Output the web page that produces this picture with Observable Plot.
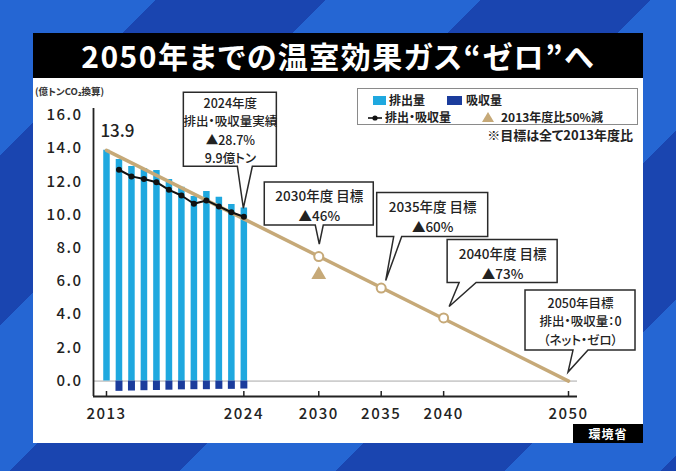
<!DOCTYPE html>
<html>
<head>
<meta charset="utf-8">
<script src="https://cdn.jsdelivr.net/npm/d3@7"></script>
<script src="https://cdn.jsdelivr.net/npm/@observablehq/plot@0.6"></script>
<style>
  html, body { margin: 0; padding: 0; }
  body {
    width: 676px; height: 471px; overflow: hidden; position: relative;
    font-family: "Noto Sans CJK JP", "Noto Sans", sans-serif;
    font-feature-settings: "palt";
    background: repeating-linear-gradient(135deg, #2566d3 0px, #2566d3 110px, #1a45b0 110px, #1a45b0 230px);
  }
  svg text { font-feature-settings: "palt"; }
  #panel { position: absolute; left: 33px; top: 33px; width: 610px; height: 410px; background: #fff; }
  #title { position: absolute; left: 33px; top: 33px; width: 610px; height: 45px; background: #000;
    color: #fff; font-weight: 700; font-size: 30px; line-height: 45px; text-align: center; letter-spacing: 1.5px; }
  #chart { position: absolute; left: 0; top: 0; }
  #chart g[aria-label="y-axis tick label"] text,
  #chart g[aria-label="x-axis tick label"] text { letter-spacing: 1.5px; }
  #ylabel { position: absolute; left: 35px; top: 84px; font-size: 9.5px; font-weight: 700; color: #333; line-height: 14px; }
  #legend { position: absolute; left: 357px; top: 88px; width: 279px; height: 35px; border: 1px solid #8a8a8a;
    background: #fff; font-size: 12px; font-weight: 700; color: #222; }
  #legend .it { position: absolute; line-height: 14px; height: 14px; white-space: nowrap; }
  #legend .sw { position: absolute; line-height: 0; }
  #note { position: absolute; right: 43px; top: 127px; font-size: 13px; font-weight: 700; color: #222; line-height: 16px; }
  #source { position: absolute; left: 573px; top: 424px; width: 70px; height: 19px; background: #000; color: #fff;
    font-size: 12px; font-weight: 700; line-height: 19px; text-align: center; letter-spacing: 1px; }
</style>
</head>
<body>
<div id="panel"></div>
<div id="title"></div>
<div id="chart"></div>
<div id="ylabel"></div>
<div id="legend"></div>
<div id="note"></div>
<div id="source"></div>
<script>
// ---- data ----
const titleText = "2050年までの温室効果ガス“ゼロ”へ";
const unitLabel = "(億トンCO₂換算)";
const sourceText = "環境省";
const noteText = "※目標は全て2013年度比";

const emissionYears = [2013, 2014, 2015, 2016, 2017, 2018, 2019, 2020, 2021, 2022, 2023, 2024];
const emissionValues = [13.9, 13.35, 12.93, 12.79, 12.69, 12.15, 11.68, 11.12, 11.42, 11.08, 10.64, 10.42];

const absorptionYears = [2014, 2015, 2016, 2017, 2018, 2019, 2020, 2021, 2022, 2023, 2024];
const absorptionValues = [-0.62, -0.6, -0.58, -0.57, -0.55, -0.53, -0.52, -0.52, -0.5, -0.5, -0.48];

const netYears = [2014, 2015, 2016, 2017, 2018, 2019, 2020, 2021, 2022, 2023, 2024];
const netValues = [12.73, 12.33, 12.17, 11.98, 11.52, 11.18, 10.68, 10.88, 10.52, 10.17, 9.9];

const pathYears = [2013, 2050];
const pathValues = [13.9, 0];

const targetYears = [2030, 2035, 2040];
const targetValues = [7.5, 5.6, 3.8];

const halfCutYears = [2030];
const halfCutValues = [6.4];

const startLabelYears = [2013];
const startLabelValues = [13.9];
const startLabelTexts = ["13.9"];

const calloutYears = [2024, 2030, 2035, 2040, 2050];
const calloutValues = [9.9, 7.5, 5.6, 3.8, 0];
const calloutTexts = [
  ["2024年度", "排出・吸収量実績", "▲28.7%", "9.9億トン"],
  ["2030年度 目標", "▲46%"],
  ["2035年度 目標", "▲60%"],
  ["2040年度 目標", "▲73%"],
  ["2050年目標", "排出・吸収量：0", "（ネット・ゼロ）"]
];

const xTicks = [2013, 2024, 2030, 2035, 2040, 2050];
const yTicks = [0, 2, 4, 6, 8, 10, 12, 14, 16];

const legendLabels = ["排出量", "吸収量", "排出・吸収量", "2013年度比50%減"];

// ---- layout / style (pixels) ----
const W = 676, H = 471;
const M = {top: 108, right: 99, bottom: 75, left: 93};
const xDomain = [2011.96, 2050.72];
const yDomain = [-0.93, 16.42];
const C = {light: "#1fa8df", dark: "#1b3c9c", tan: "#c6a978", ink: "#222"};
// callout geometry relative to the anchored data point: tip offset, box [left,right,top,bottom], tail base, text centre
const calloutLayout = [
  {tip: [0, -8],   box: [-60, 33, -116, -42], base: [-6, 9],  cx: -13.5, cy: -79,   size: 12.5, lh: 1.46},
  {tip: [1, -12],  box: [-55, 54, -62, -19],  base: [-4, 4],  cx: -0.5,  cy: -40,   size: 13.5, lh: 1.46},
  {tip: [5, -7],   box: [-9, 102, -88, -44],  base: [8, 16],  cx: 46.5,  cy: -65.5, size: 13.5, lh: 1.46},
  {tip: [6, -11],  box: [-2, 108, -67, -24],  base: [10, 27], cx: 53,    cy: -44.5, size: 13.5, lh: 1.46},
  {tip: [0, -8.5], box: [-43, 67, -82, -22],  base: [5, 20],  cx: 12,    cy: -52,   size: 12.5, lh: 1.46}
];

const emissions = emissionYears.map((year, i) => ({year, value: emissionValues[i]}));
const absorption = absorptionYears.map((year, i) => ({year, value: absorptionValues[i]}));
const net = netYears.map((year, i) => ({year, value: netValues[i]}));
const path = pathYears.map((year, i) => ({year, value: pathValues[i]}));
const targets = targetYears.map((year, i) => ({year, value: targetValues[i]}));
const halfCut = halfCutYears.map((year, i) => ({year, value: halfCutValues[i]}));
const startLabels = startLabelYears.map((year, i) => ({year, value: startLabelValues[i], text: startLabelTexts[i]}));

function calloutBoxes(index, scales) {
  const g = d3.create("svg:g");
  calloutYears.forEach((yr, i) => {
    const L = calloutLayout[i];
    const tx = scales.x(yr) + L.tip[0], ty = scales.y(calloutValues[i]) + L.tip[1];
    const [l, r, t, b] = L.box;
    const d = `M${tx + L.base[0]},${ty + b}L${tx + l},${ty + b}L${tx + l},${ty + t}L${tx + r},${ty + t}` +
              `L${tx + r},${ty + b}L${tx + L.base[1]},${ty + b}L${tx},${ty}Z`;
    g.append("path").attr("d", d).attr("fill", "#fff").attr("stroke", "#2a2a2a")
      .attr("stroke-width", 1.5).attr("stroke-linejoin", "miter");
  });
  return g.node();
}

const calloutTextMarks = calloutYears.map((yr, i) => {
  const L = calloutLayout[i];
  return Plot.text([{year: yr, value: calloutValues[i], text: calloutTexts[i].join("\n")}], {
    x: "year", y: "value", text: "text",
    dx: L.tip[0] + L.cx, dy: L.tip[1] + L.cy,
    fontSize: L.size, lineHeight: L.lh, fontWeight: 500, fill: C.ink
  });
});

const plotHeight = H - M.top - M.bottom;

const chart = Plot.plot({
  width: W, height: H,
  marginTop: M.top, marginRight: M.right, marginBottom: M.bottom, marginLeft: M.left,
  style: {background: "transparent", fontFamily: "'Noto Sans CJK JP', 'Noto Sans', sans-serif", color: C.ink, overflow: "visible"},
  x: {type: "linear", domain: xDomain},
  y: {type: "linear", domain: yDomain},
  marks: [
    Plot.ruleY([0], {stroke: "#a9a9a9", strokeWidth: 1}),
    Plot.ruleX(emissions, {x: "year", y1: 0, y2: "value", stroke: C.light, strokeWidth: 6.5}),
    Plot.ruleX(absorption, {x: "year", y1: 0, y2: "value", stroke: C.dark, strokeWidth: 7}),
    Plot.ruleX([xDomain[0]], {stroke: C.ink, strokeWidth: 1.8}),
    Plot.ruleY([yDomain[0]], {stroke: C.ink, strokeWidth: 1.8}),
    Plot.tickX(xTicks, {x: d => d, stroke: C.ink, strokeWidth: 1.5, insetTop: plotHeight - 5}),
    Plot.axisY({ticks: yTicks, tickFormat: d3.format(".1f"), tickSize: 0, tickPadding: 11, fontSize: 15, fontWeight: 500, label: null}),
    Plot.axisX({ticks: xTicks, tickFormat: d => String(d), tickSize: 0, tickPadding: 12, fontSize: 15, fontWeight: 500, label: null}),
    Plot.line(path, {x: "year", y: "value", stroke: C.tan, strokeWidth: 3.5}),
    Plot.line(net, {x: "year", y: "value", stroke: "#111", strokeWidth: 2}),
    Plot.dot(net, {x: "year", y: "value", fill: "#111", r: 3}),
    Plot.dot(targets, {x: "year", y: "value", fill: "#fff", stroke: C.tan, strokeWidth: 2, r: 4.5}),
    Plot.dot(halfCut, {x: "year", y: "value", fill: C.tan, symbol: "triangle", r: 5.5}),
    Plot.text(startLabels, {x: "year", y: "value", text: "text", dy: -19, dx: 11, fontSize: 17, fontWeight: 500, fill: C.ink}),
    calloutBoxes,
    ...calloutTextMarks
  ]
});
document.getElementById("chart").appendChild(chart);

document.getElementById("title").textContent = titleText;
document.getElementById("ylabel").textContent = unitLabel;
document.getElementById("note").textContent = noteText;
document.getElementById("source").textContent = sourceText;

// legend
const lg = document.getElementById("legend");
function addText(txt, left, top) {
  const s = document.createElement("div"); s.className = "it"; s.textContent = txt;
  s.style.left = left + "px"; s.style.top = top + "px"; lg.appendChild(s);
}
function addSwatch(html, left, top) {
  const s = document.createElement("div"); s.className = "sw"; s.innerHTML = html;
  s.style.left = left + "px"; s.style.top = top + "px"; lg.appendChild(s);
}
addSwatch(`<svg width="13" height="9"><rect width="13" height="9" fill="${C.light}"/></svg>`, 15, 7);
addText(legendLabels[0], 31, 4);
addSwatch(`<svg width="15" height="9"><rect width="15" height="9" fill="${C.dark}"/></svg>`, 89, 7);
addText(legendLabels[1], 108, 4);
addSwatch(`<svg width="14" height="8"><line x1="0" y1="4" x2="14" y2="4" stroke="#111" stroke-width="1.6"/><circle cx="7" cy="4" r="2.6" fill="#111"/></svg>`, 10, 25);
addText(legendLabels[2], 27, 21);
addSwatch(`<svg width="12" height="10"><polygon points="6,0 12,10 0,10" fill="${C.tan}"/></svg>`, 124, 23);
addText(legendLabels[3], 143, 21);
</script>
</body>
</html>
